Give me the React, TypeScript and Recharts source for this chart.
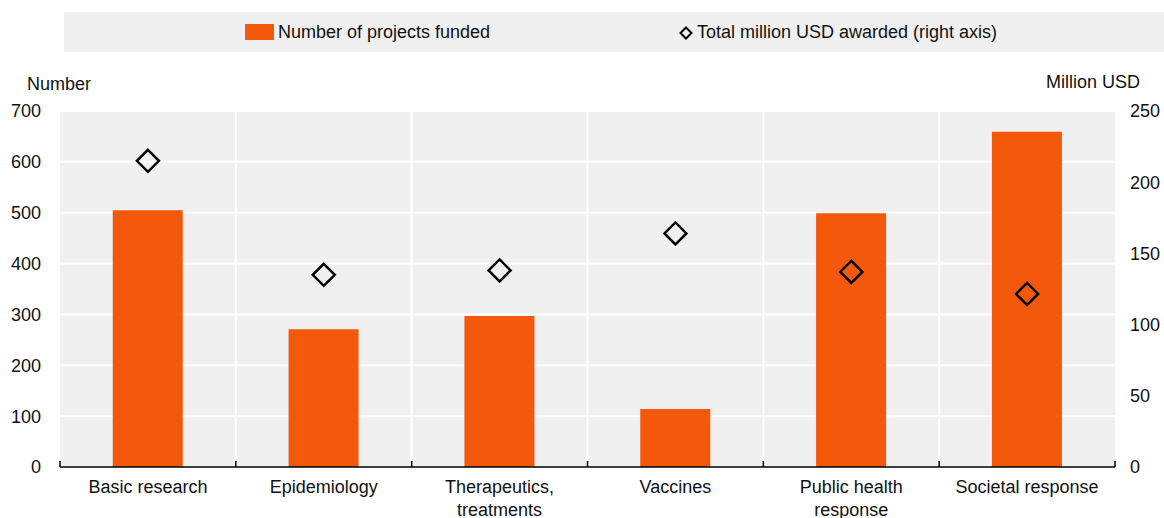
import { ComposedChart, Bar, Line, XAxis, YAxis, CartesianGrid } from 'recharts';

const categories = ['Basic research', 'Epidemiology', 'Therapeutics, treatments', 'Vaccines', 'Public health response', 'Societal response'];
const projectsFunded = [505, 271, 297, 114, 499, 659];
const millionUsd = [215, 135, 138, 164, 137, 121.5];
const leftTicks = [0, 100, 200, 300, 400, 500, 600, 700];
const rightTicks = [0, 50, 100, 150, 200, 250];

const data = categories.map((name, i) => ({ name, projects: projectsFunded[i], usd: millionUsd[i] }));

const FONT = '"Liberation Sans Narrow", "Arial Narrow", "Liberation Sans", sans-serif';
const ORANGE = '#F4580A';
const TEXT = '#111';
const W = 1164;
const H = 518;
const LEFT_W = 60;
const RIGHT_W = 49;
const PLOT_W = W - LEFT_W - RIGHT_W;

const splitLabel = (s: string) => {
  if (s.length <= 18) return [s];
  const i = s.lastIndexOf(' ');
  return [s.slice(0, i), s.slice(i + 1)];
};

const CategoryTick = ({ x, y, payload, index }: any) => {
  const half = PLOT_W / categories.length / 2;
  const lines = splitLabel(payload.value);
  return (
    <g>
      <line x1={x - half} x2={x - half} y1={y} y2={y - 6} stroke="#000" strokeWidth={1.5} />
      {index === categories.length - 1 && (
        <line x1={x + half} x2={x + half} y1={y} y2={y - 6} stroke="#000" strokeWidth={1.5} />
      )}
      {lines.map((l, i) => (
        <text key={i} x={x} y={y + 26 + i * 23} textAnchor="middle" fontSize={18} fontFamily={FONT} fill={TEXT}>
          {l}
        </text>
      ))}
    </g>
  );
};

const Diamond = ({ cx, cy }: any) => {
  if (cx == null || cy == null) return null;
  const r = 11;
  return (
    <polygon
      points={`${cx},${cy - r} ${cx + r},${cy} ${cx},${cy + r} ${cx - r},${cy}`}
      fill="none"
      stroke="#000"
      strokeWidth={2.5}
    />
  );
};

export default function App() {
  return (
    <div style={{ position: 'absolute', left: 0, top: 0, width: W, height: H, fontFamily: FONT }}>
      <div style={{ position: 'absolute', left: 64, top: 12, width: 1100, height: 40, background: '#F0F0F0' }}>
        <div style={{ position: 'absolute', left: 181, top: 12, width: 29, height: 16, background: ORANGE }} />
        <div style={{ position: 'absolute', left: 214, top: 8, fontSize: 18, color: TEXT, lineHeight: '24px' }}>
          Number of projects funded
        </div>
        <svg style={{ position: 'absolute', left: 615, top: 14 }} width={14} height={14}>
          <polygon points="7,1.5 12.5,7 7,12.5 1.5,7" fill="none" stroke="#000" strokeWidth={2} />
        </svg>
        <div style={{ position: 'absolute', left: 633, top: 8, fontSize: 18, color: TEXT, lineHeight: '24px' }}>
          Total million USD awarded (right axis)
        </div>
      </div>
      <ComposedChart width={W} height={H} data={data} margin={{ top: 111, right: 0, bottom: 0, left: 0 }} barCategoryGap="30%">
        <CartesianGrid
          yAxisId="left"
          fill="#F0F0F0"
          stroke="#fff"
          strokeWidth={2}
          verticalCoordinatesGenerator={({ offset }: any) =>
            categories.slice(1).map((_, i) => offset.left + ((i + 1) * offset.width) / categories.length)
          }
        />
        <XAxis
          dataKey="name"
          height={51}
          interval={0}
          tickLine={false}
          tickSize={0}
          tickMargin={0}
          axisLine={{ stroke: '#000', strokeWidth: 1.5 }}
          tick={<CategoryTick />}
        />
        <YAxis
          yAxisId="left"
          width={LEFT_W}
          domain={[0, 700]}
          ticks={leftTicks}
          axisLine={false}
          tickLine={false}
          tickSize={0}
          tickMargin={19}
          tick={{ fontSize: 18, fontFamily: FONT, fill: TEXT }}
          label={{
            content: ({ viewBox }: any) => (
              <text x={27} y={viewBox.y - 21} fontSize={18} fontFamily={FONT} fill={TEXT}>
                Number
              </text>
            ),
          }}
        />
        <YAxis
          yAxisId="right"
          orientation="right"
          width={RIGHT_W}
          domain={[0, 250]}
          ticks={rightTicks}
          axisLine={false}
          tickLine={false}
          tickSize={0}
          tickMargin={15}
          tick={{ fontSize: 18, fontFamily: FONT, fill: TEXT, textAnchor: 'start' }}
          label={{
            content: ({ viewBox }: any) => (
              <text x={1140} y={viewBox.y - 23} textAnchor="end" fontSize={18} fontFamily={FONT} fill={TEXT}>
                Million USD
              </text>
            ),
          }}
        />
        <Bar yAxisId="left" dataKey="projects" fill={ORANGE} isAnimationActive={false} />
        <Line
          yAxisId="right"
          dataKey="usd"
          stroke="none"
          dot={<Diamond />}
          activeDot={false}
          isAnimationActive={false}
        />
      </ComposedChart>
    </div>
  );
}
